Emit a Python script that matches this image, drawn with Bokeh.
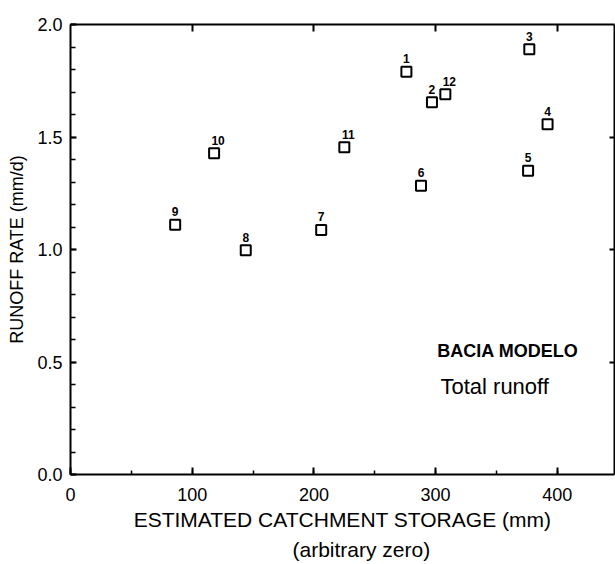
from bokeh.plotting import figure
from bokeh.models import (ColumnDataSource, LinearAxis, SingleIntervalTicker,
                          FixedTicker, PrintfTickFormatter, Label, Range1d, Title)
from bokeh.core.properties import value
from bokeh.embed import file_html
from bokeh.resources import INLINE

# ---- data ----
catchments = ["1", "2", "3", "4", "5", "6", "7", "8", "9", "10", "11", "12"]
storage_mm = [276, 297, 377, 392, 376, 288, 206, 144, 86, 118, 225, 308]
runoff_mm_d = [1.79, 1.655, 1.89, 1.557, 1.35, 1.283, 1.087, 0.997, 1.11, 1.428, 1.455, 1.69]
x_ticks = [0, 100, 200, 300, 400]
y_ticks = [0.0, 0.5, 1.0, 1.5, 2.0]

FONT = "Liberation Sans"

src = ColumnDataSource(dict(
    x=storage_mm, y=runoff_mm_d, label=catchments,
    xoff=[4 if len(c) > 1 else 0 for c in catchments],
))

p = figure(width=615, height=564, output_backend="svg", toolbar_location=None,
           x_range=Range1d(0, 447), y_range=Range1d(0, 2.0),
           min_border_left=70, min_border_right=1, min_border_top=24,
           min_border_bottom=90, x_axis_type=None, y_axis_type=None)
p.xgrid.visible = False
p.ygrid.visible = False
p.outline_line_color = None
p.background_fill_color = "white"
p.border_fill_color = "white"

def style_axis(ax):
    ax.axis_line_width = 2
    ax.axis_line_color = "black"
    ax.major_tick_line_color = "black"
    ax.minor_tick_line_color = "black"
    ax.major_tick_line_width = 2
    ax.minor_tick_line_width = 1.5
    ax.major_tick_out = 0
    ax.minor_tick_out = 0
    ax.major_label_text_font = FONT
    ax.major_label_text_color = "black"
    ax.axis_label_text_font = FONT
    ax.axis_label_text_font_style = "normal"
    ax.axis_label_text_color = "black"

# bottom axis
xb = LinearAxis(ticker=SingleIntervalTicker(interval=100, num_minor_ticks=2))
style_axis(xb)
xb.major_tick_in = 7
xb.minor_tick_in = 4
xb.major_label_text_font_size = "18px"
xb.major_label_standoff = 13
xb.axis_label = "ESTIMATED CATCHMENT STORAGE (mm)"
xb.axis_label_text_font_size = "21px"
xb.axis_label_standoff = 4
p.add_layout(xb, "below")

# second line of the x title
sub = Title(text="(arbitrary zero)", align="left", offset=222, standoff=4,
            text_font=FONT, text_font_size="21px", text_font_style="normal",
            text_color="black")
p.add_layout(sub, "below")

# left axis
yl = LinearAxis(ticker=SingleIntervalTicker(interval=0.5, num_minor_ticks=5),
                formatter=PrintfTickFormatter(format="%.1f"))
style_axis(yl)
yl.major_tick_in = 6
yl.minor_tick_in = 5
yl.major_label_text_font_size = "18px"
yl.major_label_standoff = 8
yl.axis_label = "RUNOFF RATE (mm/d)"
yl.axis_label_text_font_size = "18px"
yl.axis_label_standoff = 7
p.add_layout(yl, "left")

# top axis (frame with inward ticks, no labels)
xt = LinearAxis(ticker=FixedTicker(ticks=x_ticks[1:]))
style_axis(xt)
xt.major_tick_in = 7
xt.major_label_text_font_size = "1px"
xt.major_label_text_color = None
xt.major_label_standoff = 0
p.add_layout(xt, "above")

# right axis
yr = LinearAxis(ticker=FixedTicker(ticks=y_ticks[1:-1]))
style_axis(yr)
yr.major_tick_in = 5
yr.major_label_text_font_size = "1px"
yr.major_label_text_color = None
yr.major_label_standoff = 0
p.add_layout(yr, "right")

# points
p.scatter("x", "y", source=src, marker="square", size=10,
          fill_color=None, line_color="black", line_width=2)
p.text("x", "y", text="label", source=src, x_offset="xoff", y_offset=-13,
       text_align="center", text_baseline="middle",
       text_font=value(FONT), text_font_size="12px", text_font_style="bold",
       text_color="black")

# annotations
p.add_layout(Label(x=301.4, y=0.551, text="BACIA MODELO", text_align="left",
                   text_baseline="middle", text_font=FONT, text_font_size="18px",
                   text_font_style="bold", text_color="black"))
p.add_layout(Label(x=304, y=0.391, text="Total runoff", text_align="left",
                   text_baseline="middle", text_font=FONT, text_font_size="22px",
                   text_color="black"))

open("out.html", "w").write(file_html(p, INLINE))
